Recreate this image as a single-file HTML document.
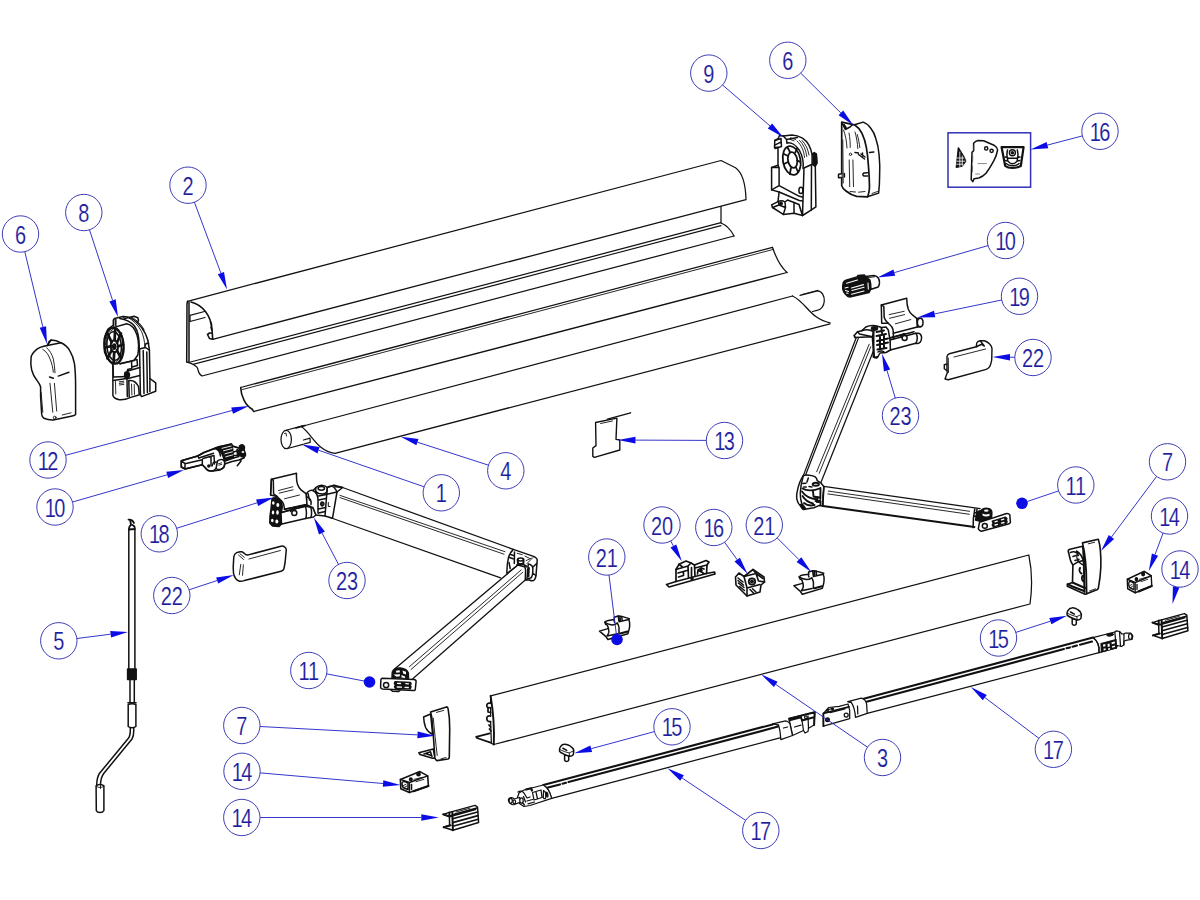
<!DOCTYPE html>
<html lang="en"><head><meta charset="utf-8"><title>Exploded parts diagram</title>
<style>
html,body{margin:0;padding:0;background:#fff}
body{width:1200px;height:900px;overflow:hidden}
svg{display:block}
#parts{fill:none;stroke:#111;stroke-width:1.25;stroke-linecap:round;stroke-linejoin:round}
#parts .t{stroke-width:.9}
#parts .sm{stroke-width:1.5}
#parts .h{stroke-width:1.6}
#parts .w{fill:#fff}
#parts .k{fill:#111}
#parts .g{stroke:#555;stroke-width:.7}
</style></head><body>
<svg width="1200" height="900" viewBox="0 0 1200 900">
<rect width="1200" height="900" fill="#fff"/>
<g id="parts">
<g id="p-01_housing">
<!-- housing (2) -->
<path d="M187.5 301.3L721 160.5L735.5 167.7C741.5 172 745.6 183 746 199.7L212.7 339.3"/>
<path class="h" d="M187.5 301.3L187 304L186.7 362L188.7 362.5M189 302L189 362" style="stroke-width:1.5"/>
<path class="h" d="M191 302C203 305 211 316 212 329L212.7 339.3" style="stroke-width:1.6"/>
<path class="h" d="M212.7 339.3L209.5 338.5L207.5 334.5L209.5 333L212 333M210.5 322L211.5 325M211 327L211.8 330"/>
<path d="M190 315.3L204.500 311.5M190 321.5L205 317.5M190 315.3L190 321.5"/>
<path d="M190.5 362L721 222.7"/>
<path d="M193 364.4L721 225.600" style="stroke-width:1.1"/>
<path d="M188.7 362.5C192 364 196 365 197.5 368C198.5 371 198 374 202 376L734 236"/>
<path d="M721 206.500L721 223C726 225 731 230 734 236"/>
</g>
<g id="p-02_profile12">
<!-- profile (12) -->
<path d="M240.7 387.5L772.5 247.300"/>
<path d="M242.500 389.500L773.300 249.400" class="t"/>
<path class="h" d="M240.7 387.5C241 397 246 406 252 409L253 410.500L254 411.500" style="stroke-width:1.6"/>
<path d="M254 411.500L787 272.500"/>
<path d="M772.500 247.300C776 258 781 267 787 272.500"/>
</g>
<g id="p-03_fabric">
<!-- roller tube (1) + fabric (4) -->
<ellipse cx="286.200" cy="439.500" rx="5.200" ry="9.200"/>
<path d="M285 430.500L302.500 425.800M287.500 448.500L303 444.300"/>
<path d="M284.500 433.500L286 433L286.500 436" class="t"/>
<path d="M303.500 440L310 438.200L310.200 442.300L304 444" />
<path d="M301.300 426.500L792.500 296"/>
<path d="M296 428L305 425.600" class="h"/>
<path d="M301.300 426.500C312 434 317 451 335 453.300L830 323.800"/>
<path d="M792.500 296C806 302 810 319 830 322.800"/>
<path d="M800 295.300L817.500 290.800C822 291 824.500 296 824.300 301C824 306 821 310 817 310.300L812.500 311.500"/>
<path d="M802 294.500L818 290.300" class="t"/>
</g>
<g id="p-04_front3">
<!-- front profile (3) -->
<path d="M490.6 695.9L1028.8 555C1032 570 1032 590 1030 604L493.8 744.5"/>
<path class="h" d="M490.6 695.9C493 710 494.5 728 493.8 744.5" style="stroke-width:1.9"/>
<path d="M490.6 695.9L490.6 703M490.6 707.6L490.6 716M490.6 721.6L491.4 743.4L493.8 744.5"/>
<path class="h" d="M476.2 736.8L489.8 733.3M476.2 736.8L477 738L490.6 742.6" style="stroke-width:1.8"/>
<path class="h" d="M490.6 703.3C488 702.5 486.5 704 486.8 706C487 707.6 488.5 708 490.6 707.6M488 708L488 712L490.6 712.5M490.6 716C488 715.3 486.5 717 486.8 719C487 721 488.5 721.8 490.6 721.6M489 725L490.5 727M489.5 729L491 731" style="stroke-width:1.7"/>
</g>
<g id="p-05_legs">
<!-- legs (17) -->
<!-- left leg tube -->
<path d="M551.7 798.3L780.8 737.6"/>
<path class="h" d="M543.3 785L772.7 724.4" style="stroke-width:2.1"/>
<path class="h" d="M548 787.6L560 784.4M562.5 783.7L566 782.8M568.5 782.1L778 726.6" style="stroke-width:2.1"/>
<path d="M543.3 785C547 787 550 792 551.7 798.3"/>
<!-- left leg left fitting -->
<path class="w" d="M524 790L543.3 785C547 787 550 792 551.7 798.3L530 805.5L524 806.5L519.5 803.5L517.5 797.5L519 793Z"/>
<path class="h" d="M526 789.5L531 788.2L532 790.5" style="stroke-width:2.2"/>
<path d="M532.5 792.5L541 790L542 797.5L534 800ZM536 792L537.5 799M543.5 790.5C545.5 791 546.5 795 545.5 798.5C544.5 799 543.5 798.5 543.3 797.5Z"/>
<path class="k" d="M546 792C547.5 792 548.3 794.5 547.8 796.8C546.8 797 546 796 546 794.5Z"/>
<path d="M518 792C520 790.5 522.5 791 524 793L527 798L530 797M523.5 796.5L525.5 802M520 799.5L524.5 805M527 801L532.5 799.5M528 803.8L534.5 802"/>
<path class="w" d="M509 798.5C510.5 797 513 797.3 514 799L519.5 797.5L521 802L515.8 803.8C514.5 805 512 805 510.5 803.5C508.5 802 508 800 509 798.5Z"/>
<ellipse cx="510.7" cy="800.8" rx="1.6" ry="2.5"/><ellipse cx="514.3" cy="801.8" rx="1.3" ry="2"/>
<ellipse class="w" cx="521.5" cy="800.5" rx="1.7" ry="2.6"/>
<!-- left leg right collar + fitting -->
<path class="w" d="M789 718.6L814.7 712.2L814.1 725L808.5 728.3L808 731.5L805 733L803.5 730.5L792.5 735.5Z"/>
<path class="h" d="M789 718.6L814.7 712.2L814.1 725M789.5 720.3L801 717.3L802 720.5L813 717.5" style="stroke-width:2"/>
<path d="M802 720.5L803.5 730.5M794.5 727L801 725.2M808 716L808.5 728.3"/>
<circle cx="805.9" cy="717.2" r="1.4"/>
<path class="w" d="M772.7 723.8L785.5 720.9C788.5 721.5 790 723 790.2 725L792.5 735.5L780.8 739.6C780.5 734 779.8 729 778.5 725Z"/>
<path d="M772.7 723.8L778.5 725M783.5 728L787.5 727"/>
<!-- right leg tube -->
<path d="M867.2 713.3L1099 652.6"/>
<path class="h" d="M863.7 698.8L1093 637.6" style="stroke-width:2.1"/>
<path class="h" d="M866.5 701.8L1064 649M1066.5 648.3L1070 647.4M1072.5 646.7L1077 645.5M1080 644.7L1092 641.6" style="stroke-width:2.1"/>
<!-- right leg left plate + collar -->
<path class="w" d="M823.4 713.3L828.7 707.5L839.2 706.3L848 704L849.7 710.4L849.7 718.6L823.4 726.2Z"/>
<path class="h" d="M823.4 713.3L823.4 726.2M823.4 713.3L849 706.8" style="stroke-width:1.8"/>
<path d="M826.5 710L833 708.3M830 712.7L845 708.8"/>
<circle class="k" cx="827.5" cy="719.8" r="1.9"/><circle cx="846.2" cy="715" r="2"/>
<circle cx="827.5" cy="710.5" r=".9"/><circle cx="832.5" cy="708.8" r=".9"/>
<path class="w" d="M847.9 701.7L861.3 698.2C864.5 699 866 701 866.6 704L867.2 713.3L855.5 717.4C855 711 853.5 705.5 851.3 702.3Z"/>
<path d="M847.9 701.7L851.3 702.3M857.5 706L857.8 714"/>
<!-- right leg right fitting -->
<path class="w" d="M1093 637.6L1114.8 632L1116.5 630.8L1119.5 631.5L1122 634L1124 633.8L1125.5 633L1130.5 633L1132.8 636L1132 639.5L1127 640.2L1124 641L1123.8 645L1121.5 646.5L1117.5 645.5L1116.3 648L1099 652.6C1099.5 647 1097.5 641 1093 637.6Z"/>
<path d="M1093 637.6C1097.5 641 1099.5 647 1099 652.6M1114.8 632L1116.3 648M1119.5 631.5L1120.5 646M1124 633.8L1123.8 645"/>
<path class="k" d="M1107 634.5C1109.5 633 1112.5 633 1113.5 634.3C1112.5 636 1109 636.5 1107 635.5ZM1101 643.5L1116 639.5L1116.3 648L1101.5 652Z"/>
<g fill="#fff" stroke="none"><path d="M1103 644.5L1105.3 643.9L1105.5 646.2L1103.2 646.8ZM1107.5 644L1109.5 643.5L1109.8 646.5L1107.8 647ZM1111.5 642.3L1114.8 641.5L1115 643.3L1111.7 644.2ZM1103.5 648.7L1105.5 648.2L1105.7 650L1103.7 650.5ZM1108 648.5L1110 648L1110.2 649.5L1108.2 650ZM1112 646.3L1115 645.5L1115.1 647L1112.1 647.8Z"/></g>
<ellipse cx="1130.3" cy="636.5" rx="1.7" ry="2.8"/>
</g>
<g id="p-06_arms">
<!-- arms -->
<path d="M342.6 487.5L513.3 549.4M330 517.5L500.6 577.8"/>
<path d="M340 495.4L505 551.7M340 497.6L504 554.2" class="t"/>
<path d="M517.8 565L394.3 669.2M525.3 580L412.8 678.7"/>
<path d="M521.1 570L409.4 666.7M522.8 572.2L411.1 669.4" class="t"/>
<path d="M856.3 337.5L803.3 475.6M874.3 348.8L820.8 482.8"/>
<path d="M870.8 346.7L819.2 473.3M869.2 344.2L816.7 471.7" class="t"/>
<path d="M858.2 338.6L805.2 476"/>
<path d="M823.8 486.3L980.1 508.7"/>
<path d="M822.8 506L974.4 526.9" style="stroke-width:2"/>
<path d="M828.3 491.1L969.6 511.3M827.8 493.9L969.3 514.3" class="t"/>
</g>
<g id="p-10_cap6L" class="sm">
<!-- end cap (6) left -->
<path class="w" d="M47.2 345.6C42 346.5 38.5 348 36.7 349.4C33 352.5 31.1 355 31.1 357.8C30.5 362 30.8 366 31.7 370C33 375 35 378 36.7 380C38.5 382.5 40 384.5 40.6 386.7L40.6 396.7L41.7 414.4C42 416.5 43 417.8 43.9 418.3C47 419.6 50 420.2 53.3 420L72.2 416.1C74 415.7 75.2 415.2 75.6 414.4L75.6 385.6C75.6 378 75.3 370 74.4 363.3C73.5 358.5 72 354.5 70 351.1C68 347.5 65 344.5 61.1 342.8C58 341 54.5 340 51.1 340Z"/>
<path d="M47.2 345.6L61.1 342.8M47.5 345L49 341.5L51.1 340" />
<path class="t" d="M42.8 349.4C46.5 351.5 48.5 355 50 358.9C51.8 363 52.8 367.5 53.3 372.2M46.7 347.8C50 350.5 52 354.5 53.3 358.9C54.3 363.5 54.8 368 55 372.8"/>
<path d="M58.3 376.1L68.9 372.2M49.5 377L53.3 378.3"/>
<path class="t" d="M50 383.3L52.8 412.2M54.4 383.3L56.7 411.1M41.1 392.2L42.8 412.2M62.2 415L71.1 412.8"/>
<circle class="t" cx="54.7" cy="417.6" r="1.4"/>
</g>
<g id="p-11_motor8" class="sm">
<!-- motor/gear unit (8) -->
<path class="w" d="M113.5 320L114.5 318.5L123 316.6C128 316.3 133 318.8 137.2 322.7C141.5 326.5 144 330.5 145.7 334.3C147.5 338 148.5 342 148.8 345.9L149.4 350.1L149.9 378.5L155.7 382.9L155.7 391.3L141.5 396.6L140.4 394.5L130 397.6C126 399.5 122.5 400 119.3 399.7C116 399 113.5 397.5 112.9 395.5L112.9 364.9L104.5 352L104.5 338L108 329L113.5 325Z"/>
<path d="M113.5 320L113.5 326M115.8 319.4L115.8 325.5M123 316.6L124.6 318.6L134 316.2L137.8 317.8L138.5 320.5L137.2 322.7"/>
<path d="M119.8 318.5C126 319.5 131 322 134.5 326C138 331 139.5 338 139.3 349L139.6 351"/>
<path class="t" d="M128 317.5C133.5 320.5 138.5 325.5 141.5 331.5C143.5 336 144.6 341 144.9 346.3M131.5 317C137 320 141.5 324.5 144.2 330"/>
<path d="M114 327.4L126.7 323.7C131.5 324.5 135 329 137 335C138.8 341 138.8 349 137.8 355L134 360.5L120 363.8"/>
<path d="M139.3 349L145.5 347.5L149.4 350.1M144.9 346.3L146 343.5L148.6 343.2M139.6 351L140.4 394.5M143.2 350.5L144 393.5M146.8 352L147.4 392.5M149.9 378.5L149.9 391.5"/>
<path d="M112.9 364.9L113.4 377L127 376.6M120 363.8L131.5 361L131.8 368.5L127.6 369.6L127.6 373.5M131.5 361L137 359.4L137.5 365.5L132 367"/>
<path d="M127 371.2L139.8 367.5M127 378.8L139.8 375.5M113.4 380.5L126.5 378.5"/>
<path class="k" d="M125 372.5C127 371.3 129.3 372.5 129.5 374.5C129.6 376.6 128.5 378 126.8 378C125.3 377.8 124.5 376.5 124.6 375Z"/>
<path d="M127 378.8L127.3 396.5M128.8 380.6L129.2 396.8M128.8 380.6C133 380 136.5 382.5 138.5 386.5L139.2 394"/>
<path class="t" d="M131.5 384L131.9 395M134.2 384.5L134.5 394.3M119.3 381.8L123.8 381.2M119.3 383.4L123.8 382.8M119.3 385L123.8 384.4M115.5 381.5L115.8 394"/>
<ellipse class="w h" cx="114" cy="345.7" rx="9.6" ry="18" transform="rotate(-4 114 345.7)" style="stroke-width:2.3"/>
<ellipse cx="114.1" cy="346" rx="7.3" ry="14.3" transform="rotate(-4 114 345.7)" style="stroke-width:1.6"/>
<ellipse cx="114.3" cy="346.3" rx="3.6" ry="6" transform="rotate(-4 114 345.7)" style="stroke-width:2"/>
<ellipse class="k" cx="114.2" cy="346.6" rx="1.5" ry="2.6"/>
<path style="stroke-width:2.7" d="M114.6 340.3L115.2 329M117 342.5L121 333.5M117.9 346.5L123 344.5M117 350.3L120.8 358M114.2 352.3L113.6 363M111.5 350.5L107.5 358.5M110.7 346.2L105.2 347.5M111.6 342.3L107.6 333.6"/>
<path class="t" d="M116.2 329.5L119.8 332.5M122 335.5L123.4 342.5M123.2 347L121.6 355.5M119.4 359L115.3 362.3M112 362.5L108.5 360M106.6 356.6L105.3 350M105.4 345L106.8 336M108.8 332.3L113.2 329.3"/>
</g>
<g id="p-12_part10L" class="sm">
<!-- drive insert (10) left -->
<path class="w" d="M181.3 460.7L197.7 456L204 452.5L214.5 448.5L220 446.5L231.5 444L232.3 446L238.5 448L244 449.5L245.5 454L244 458L239 460L232 461.5L224.5 464L224 467L220 470L213 471L208 470.5L205.5 468L202.3 464.7L185 469L181.3 467Z"/>
<path d="M181.3 460.7L181.3 467L185 469L185 463.7ZM185 463.7L202.3 459.7M185 469L202.3 464.7M181.3 460.7L197.7 456L198.8 458"/>
<path d="M197.7 456L204 452.5L214.5 448.5M198.8 458L213.5 453.3M202.3 459.7L202.3 464.7L205.5 468C207 470.5 210 471.3 213 471L216 468.5"/>
<path d="M203 458.5L211 456.2L211 465.5M211 456.2L214 455.5L214.5 464M214.5 448.5C218 449 220 452 220.5 456"/>
<path d="M212 466L213.5 462.5L216 462M216 468.5L217.5 461C219 459.5 222 459 224 460.5C225 462 225 465 224 467C222.5 469.5 219 470.5 216 468.5"/>
<path class="t" d="M218.5 463.8L221.5 462.8M218.8 465.2L221.8 464.2"/>
<circle class="k" cx="208.8" cy="466" r="1"/>
<path class="k" d="M216 447.7L231.5 444L232.3 446L233.5 458L224.5 461.2C223.5 456 221 451 216 447.7Z"/>
<path style="stroke:#fff;stroke-width:.9" d="M222 448.3L231.2 446M223.5 450.8L232 448.6M225 453.8L232.5 451.8M225.8 456.8L233 454.8"/>
<path d="M214.5 448.5L220 446.5M233.5 458L239 456.5M232.3 446L238 447.6"/>
<path class="k" d="M239.5 446C241 444 243.5 444.3 244.3 446.5C245 448.5 244 450.3 242 450.5C240 450.5 238.8 448.5 239.5 446ZM237 449.5L241 451.5L241 455L237.5 455.5ZM241 454C243 453 245.5 453.5 245.5 455.2C245 456.8 242.5 457.3 241 456.6Z"/>
<path d="M233.5 452L237 451M234 455.5L237.5 455.5M240.5 459.5L241 461L237.3 465.7"/>
</g>
<g id="p-13_bracket18" class="sm">
<!-- bracket (18) + left shoulder joint -->
<path class="w" d="M271.4 479.3L296.5 473.3C296.3 478 296.6 482 297.6 484.5C298.5 487 299.5 488.6 301 489.8L306.3 493.9L307 505L284.5 509.3C284 505 283.5 503 282.3 501.8C280.5 499.5 278.5 498 277 496.5L270.6 495Z"/>
<path d="M271.4 479.3L273.3 480L273.6 494C275 495 276.2 495.8 277 496.5M270.6 495L271.4 479.3"/>
<path class="t" d="M278.5 490.5L292.8 486.8M279.3 493.1L293.1 489.8M284.5 498.8L299.5 495"/>
<path class="w" d="M280 513L304.8 506L313 507.8L316 515L313.5 517L305.5 518.6L280.8 524.3Z"/>
<path d="M284.5 509.3L304.8 504.8M280.5 512.5L305 506.4M305 505C306.5 509 306.8 514 305.8 518.5M309.5 504.5C311.5 508 312 513 311 517.3M304.8 504.8L309.5 504.5L313.5 506.5"/>
<circle class="w" cx="294.3" cy="513" r="2.5"/>
<path d="M290.5 511.5C291 509.5 293 508.6 295 509"/>
<path class="k" d="M272 499C274 497 278 497.5 280 500C282 502.5 282.5 506 282 509L281 513L281.5 524L279 526.5L272.5 526L269.8 523L270 516L271 509Z"/>
<g fill="#fff" stroke="none"><ellipse cx="273.3" cy="503" rx="1.3" ry="1.8"/><ellipse cx="277.8" cy="505" rx="1.5" ry="2"/><ellipse cx="273" cy="512.5" rx="1.2" ry="2"/><ellipse cx="277.5" cy="512.5" rx="1.3" ry="2.2"/><ellipse cx="272.3" cy="520.5" rx="1.3" ry="1.8"/><ellipse cx="276.8" cy="521.5" rx="1.5" ry="2"/></g>
<!-- shoulder joint -->
<path class="w" d="M306.3 493.9C308 491 311 489.8 313 490.5L316 487.5C319 484.5 324 484.3 327.3 487.5L334 485.3L342.6 487.5L337 492L332.5 518.3L325 516L316 515L313 507.8L307 505Z"/>
<ellipse cx="321.3" cy="488.3" rx="3.2" ry="1.9"/>
<path d="M316 487.5C315 490 316 492.5 319 493.5C322.5 494.3 326 493.5 327 491.5L327.3 487.5M313 490.5C316.5 492.5 318 496 318 500L318 513"/>
<path d="M327.3 487.5L325 516M337 492L327 494.2M334 485.3L335.5 486.8L342.6 487.5M327.3 487.5C330 485.5 334 485 337 492"/>
<path class="h" d="M318.5 496L326.5 494.5M318.5 500L326 498.5M318.5 509L325.5 507.5M318.5 513L325.3 511.5M322 502L322 506"/>
<circle cx="322.3" cy="504" r="1.7"/>
<path d="M307 497C310 498 311.5 501 311 504.5M308 493.5L309.5 500"/>
<path class="t" d="M328.3 502.5L328.3 506.5L330 506.5" style="stroke-width:1"/>
</g>
<g id="p-14_part22L" class="sm">
<!-- cover (22) left -->
<path class="w" d="M233.2 567.2L233.8 556.7C234.3 554.5 235.3 553.3 236.7 552.6C238.5 551.8 240.3 551.5 241.9 551.7C243 552.2 244 553 244.8 553.8C246 554.8 247.3 555.1 248.3 554.9L281 546.2C282.5 546 283.7 546.2 284.5 546.8C285.7 547.6 286.2 548.5 286.3 549.7L285.1 562.5L283.9 568.9C283.3 570.3 282.3 571 281 571.3L244.3 580.6C242.5 581.2 241 581.4 239.6 581.2C237.5 580.6 236.3 579.5 235.5 578.3C234.2 576.5 233.6 574.8 233.5 573Z"/>
<path class="t" d="M248.9 559L280.4 550.5M240.8 564.3L239.3 574.8M243.4 564.8L242.5 575.3M238.5 555L243.5 559.5M240 553.8L244.3 557.3"/>
</g>
<g id="p-15_crank5" class="sm">
<!-- crank (5) -->
<path d="M128.8 529L128.8 669M134.9 529L134.9 669"/>
<path class="h" d="M128.5 519.7C131 519.5 133 520.5 134 523M130.3 521L131 524.5L129.3 527L129 529.5L134.8 529L134.5 526.5L132.5 525" style="stroke-width:1.8"/>
<rect class="k" x="127.6" y="669" width="8.6" height="10.5"/>
<path d="M130 679.5L130 702M134.3 679.5L134.3 702"/>
<path class="h" d="M128 702.8L136 702.8"/>
<path class="w" d="M128.2 704.5L128.2 726.5C130 728 134 728 135.9 726.5L135.9 704.5C134 703.5 130 703.5 128.2 704.5Z"/>
<path d="M130.3 728C130.5 733 130 736 128.6 738L99.4 773.5C97.5 776.5 96.8 780 96.7 785M133.7 728C134 733 133.5 736.5 132 739L103.7 773.5C101.5 776.5 100.6 780 100.5 785"/>
<path class="w" d="M96.1 786L96.3 810.5C97.5 813.3 102.5 813.3 103.9 810.5L103.9 786C102.5 784 97.5 784 96.1 786Z"/>
<path class="t" d="M96.1 786C97.5 788 102.5 788 103.9 786M100.5 785L100.5 788.5"/>
</g>
<g id="p-16_elbowL" class="sm">
<!-- left elbow -->
<path class="w" d="M513.3 549.4L532.8 556.1C535.5 557 537 558.3 537.2 560L536.1 574.4C535.8 578 535 580 533.3 580.6C532 581 530.5 580.6 529.4 580L525.3 580L525.6 570C525.5 568 525 567.3 524.4 566.7L517.8 565L507 573.5L506.9 571.1C507 566 507.5 562 508.3 558.3C509.3 554.5 511 551.5 513.3 549.4Z"/>
<path d="M514.5 552L514.3 563.5M510.5 554.5L513.5 555.5M509.5 557.5L513 558.8M509 562.5L510.2 568.5"/>
<path class="t" d="M517.2 553.3L522.2 554.7M525 556.1L529.4 558.3M526.1 560.6L531.1 558.3M527 563.5L533 557.5"/>
<ellipse class="w" cx="520.6" cy="559.4" rx="2.9" ry="1.5"/>
<path class="h" d="M517.7 559.6L517.9 563.2C519.5 564.3 522 564.3 523.4 563.4L523.5 559.6M517 565C520 563.3 524 564 526.5 566.5" style="stroke-width:2"/>
<path d="M528.3 563.9C531 564.5 533 566.5 532.8 568.9C533 573 532.5 576 531.1 577.8L526 579.6M528.3 563.9L527 579M533 567L536.6 563.5M532.5 573L535.8 575.5"/>
<path class="h" d="M528.8 568L528.3 577" style="stroke-width:2.2;stroke-dasharray:2 1.2"/>
</g>
<g id="p-17_armendL" class="sm">
<!-- left arm end bracket -->
<path class="k" d="M392 677.5L392.3 672C393.5 669 397 667.6 400.5 668C404.5 668.5 407.5 670.5 408.3 673L408.5 678.3Z"/>
<g fill="#fff" stroke="none"><path d="M396 670.8L399.5 670.2L400 672.3L396.3 672.8ZM402.5 670.5L406 671.8L406 674.5L403.2 673.5ZM393.5 674.5L396.5 676.8L399.8 676.2L400 674.3ZM401.5 675L405 676.5L405.2 678L401.5 677.5Z"/></g>
<path class="w" d="M382.3 678.2L414 679.4C415.5 679.6 416.2 680.3 416.1 681.5L415.3 689.3C415.1 690.3 414.5 690.7 413.5 690.6L382.3 689C381.2 688.8 380.6 688.2 380.6 687.3L380.9 679.6C381 678.7 381.5 678.3 382.3 678.2Z" style="stroke-width:1.5"/>
<circle cx="386.1" cy="685" r="2.6" style="stroke-width:1.5"/>
<path class="k" d="M395 681.8L410.5 682.4L411 684L410 685.3L411 686.6L410.3 688.8L395.5 688.3L394.5 686.8L395.5 685.2L394.4 683.5Z"/>
<path d="M397.5 683.3L400.5 683.5M405.8 683.6L408.5 683.8M397.3 687L401.5 687.2M405 687.3L408.3 687.5" style="stroke:#fff;stroke-width:1.3"/>
<path d="M391 690L392.5 691.3L398.5 691.6L400 690.5"/>
</g>
<g id="p-18_part7L" class="sm">
<!-- end cap (7) left -->
<path class="w" d="M430.6 714L423.6 717C423.8 721 424.5 724.5 425.6 727.5C427 730.5 429.5 733 432.6 734.5Z"/>
<path class="w h" d="M433.3 749L418.9 752.8L420 754.5L432.6 758.3L435 757.9Z"/>
<path d="M424 754L430.5 751.8L432 756.5M425.5 753.5L430.5 755.2"/>
<path class="w h" d="M430.6 712L446.5 706.9C447.5 707 448 707.7 448.1 708.9C449.3 715 449.8 722 449.7 729.1L449.3 757.1C449.2 758.2 448.8 758.8 448.1 759L436.8 760.6C435.8 760 435.2 759 434.9 757.9L433.3 735.3L431.8 717.4Z"/>
<path class="t" d="M433.3 718.2C434.3 730 435.8 743 437.2 755.5M436.4 712.4L443.8 710.4M441 758.8L446 757.6"/>
</g>
<g id="p-19_part14L" class="sm">
<!-- clamp block (14) left -->
<g id="cube14">
<path class="w h" d="M400.4 779.4L419.9 771.6L427.7 775.9L428.4 786L409.4 792.6L400.8 788.7Z"/>
<path d="M400.4 779.4L409.4 782.5L427.7 775.9M409.4 782.5L409.4 792.6"/>
<path d="M402 783.5C402 781.5 404 781 406 782L408 783L408 789.5L404 788C402.5 787.3 402 786 402 783.5Z"/>
<path class="t" d="M403.5 785.5L406 784.3M404.5 787.3L406.8 786"/>
<circle class="k" cx="410.8" cy="779.3" r="1.3"/><circle class="k" cx="418.5" cy="774.2" r="1.6"/>
<path class="t" d="M414 779.4L422.2 777.4M416 781.7L423.8 779.4"/>
<path class="h" d="M413.5 791.2L428.4 786" style="stroke-width:2.2"/>
<path d="M411.5 784.5L411.5 789.5"/>
</g>
<use href="#cube14" transform="translate(1127.3 579.3) scale(.875 1.02) translate(-400.4 -779.4)"/>
<!-- channel (14) left -->
<g id="chan14">
<path class="w" d="M443.2 814.4L449.4 812.4L475.1 805.4L477.5 807L478.6 822.5L452.9 830.3L443.6 827.2L449.6 825.5L449.4 816.5Z"/>
<path class="h" d="M443.2 814.4L449.4 816.5L475.3 809.3M449.4 812.4L449.4 816.5M443.6 827.2L450.5 825.3M452.9 830.3L452.3 812" style="stroke-width:2"/>
<path class="h" d="M452.5 814.8L477 808M452.6 818.8L477.6 812M452.7 822.6L478 815.6M452.8 826.3L478.3 819.3" style="stroke-width:1.7"/>
<path class="t" d="M456 812L470 808.2"/>
</g>
<use href="#chan14" x="709.3" y="-191.8"/>
</g>
<g id="p-20_part15" class="sm">
<!-- knobs (15) -->
<g id="k15">
<path class="w" d="M564.6 755L564.6 760.3C565.3 761.8 568 761.8 568.7 760.3L568.7 755.5Z"/>
<path class="w" d="M560 747.5C561 745.5 562.5 744.3 564.2 744.2C566.5 744 568.5 744.8 570 745.8C572 747 573.5 748.8 573.8 750.4L573.3 754.6C572.5 755.8 571.3 756.3 570 756.3C567.5 755.8 565.3 754.8 563.3 753.8C561.5 753 560.2 752.2 559.6 751.3C559.3 750 559.5 748.5 560 747.5Z"/>
<path d="M562.9 748.3L566.7 750.4" class="h"/>
<path class="t" d="M573.6 750.8L569.2 752.9L569.6 756.2M569.2 752.9C566 752.3 562.5 751 559.8 749.5"/>
</g>
<use href="#k15" x="507.6" y="-136.3"/>
</g>
<g id="p-21_part7R" class="sm">
<!-- end cap (7) right -->
<path class="w h" d="M1082.5 546.3L1070 549.3C1068.5 549.8 1068 550.5 1068.3 551.5L1070.4 560C1071 562 1072 563.8 1072.9 565L1072.5 582.5L1067.5 584.2L1067.3 586.3L1085 594.2L1086.7 593.8L1086.3 571.7Z"/>
<path class="h" d="M1067.5 584.2L1072.5 586.5L1084 591M1072.5 582.5L1085 588" style="stroke-width:2"/>
<path d="M1070.4 552.5C1074 551 1077 552.5 1078.5 555.5M1073 556.5L1077.5 555M1072.9 565C1076 562.5 1079.5 561 1083 560.5M1076.5 551C1080 553 1082.5 557 1083.5 562M1078 553C1076 556 1077 560 1079.5 562.5C1081 564 1083 565 1084.5 565M1075 560.5L1079 559.3"/>
<path class="h" d="M1083.5 552L1084.5 592M1080 568C1079 570 1079.5 572.5 1081.5 573.5M1082.5 576C1081.5 578 1082 580.5 1083.5 581.5" style="stroke-width:2"/>
<path class="w h" d="M1082.5 542.9L1098.3 539.2C1099.5 543 1100.2 547 1100.4 550.8C1100.9 556 1101 562 1100.8 567.5C1100.5 575 1099.5 582 1098.3 588.3L1097.5 589.5L1086.7 593.8L1086.3 571.7C1086 564 1085.2 557 1084.2 550.8Z"/>
<path class="t" d="M1088.3 543.8L1094.6 542.3M1089.5 591L1095.5 588.8"/>
</g>
<g id="p-22_armendR" class="sm">
<!-- right arm end bracket -->
<path d="M974.8 509C973.5 515 973 521 973.1 527.7M977 509.3L976 518M974.5 512.5L977 513M974 516L976.5 516.5"/>
<path class="k" d="M975.5 520L978 511.5L981.3 510.5C982.5 508.5 986 507.8 989 508.8C991 509.5 992 511 991.8 513L991.6 517.5L983 522Z"/>
<g fill="#fff" stroke="none"><ellipse cx="986.3" cy="510.7" rx="2.3" ry="1.1"/><path d="M982.5 513.5C984.5 514.8 988 514.8 989.5 513.6L989.5 515.8C988 516.8 984.5 516.8 982.5 515.6Z"/></g>
<path class="w" d="M979.5 522.4L1005.8 513.7C1007.5 513.3 1009 513.8 1009.8 514.8L1010.4 522.4C1010 523.5 1009 524 1007.5 524.2L981.3 531.2C980 530.8 979 530 978.3 528.8Z" style="stroke-width:1.5"/>
<ellipse cx="984.8" cy="525.9" rx="2.5" ry="2.3" style="stroke-width:1.5"/>
<path class="k" d="M992.3 521.3L1005.5 517.3L1006.9 518.5L1006 520L1007 521.5L1006.5 523L993.5 526.7L992.3 525L993.3 523.5Z"/>
<path d="M995 521.8L997.3 521.1M1001.5 519.8L1003.8 519.1M995 525L997.5 524.3M1001.5 523.2L1004 522.5" style="stroke:#fff;stroke-width:1.3"/>
</g>
<g id="p-23_elbowR" class="sm">
<!-- right elbow -->
<path class="w" d="M803.3 475.6C805 475 807.5 475 809.4 475.3C812 475.5 814 476 815.6 477.2C816.5 478 817 479.2 817.2 480.6L820.8 482.8L823.9 486.7L822.8 506.1L818.9 505.6L813.9 507.8L803.3 509.4C802 508.5 801 507.3 800.6 506.1C798.5 504 797.3 501.8 796.9 499.4C796.5 497 796.6 494.3 797.2 491.7C797.8 488 798.7 484.8 800 481.7C801 479.5 802 477.5 803.3 475.6Z" style="stroke-width:1.5"/>
<path d="M803.3 475.6C801.5 482 800.5 488 800.3 493C800.3 498 801 502.5 803 506M808.3 478L807 482M803 483.5L806 483.2M803.5 487L806.3 487M809 486.5L812 487"/>
<ellipse class="w" cx="815.8" cy="484.2" rx="3.1" ry="1.5" style="stroke-width:2"/>
<path class="h" d="M802.5 488.5C806 490.5 813 491.5 819.5 488.5M802 491.5C805 496 811 499 817.5 499.5M802.5 496C805 500 808.5 502.5 813 503.5M804 503C807 505.5 811 505.8 814.5 505M813 491L813.5 496.5L819 497.5M820.5 488L820.3 499M815.5 501L820.5 501L820.5 505" style="stroke-width:1.9"/>
<path class="k" d="M800.6 504.5L803 505L805.5 508.5L803.3 509.4Z"/>
<path class="t" d="M814 496.5L818 497M814.5 498L818 498.5M816.5 502.5L819.5 502.5"/>
<path d="M823.9 486.7C823 493 822.6 500 822.8 506.1"/>
</g>
<g id="p-24_bracket19" class="sm">
<!-- bracket (19) + right shoulder joint -->
<path class="w" d="M881.3 305L906.7 298.3C906.8 303 907.3 306.5 908.3 309.2C909.3 311.5 910.3 313 911.7 314.2L916.7 318.3L917.3 327L893.3 333.3C893.3 330 892.8 328 891.7 326.7C890.5 325.3 889.3 324.3 888.3 323.3L881.7 323.3Z"/>
<path d="M881.3 305L883.8 306.3L884.2 317.5C885 320 886.5 321.8 888.3 323.3"/>
<path class="t" d="M889.2 314.6L904.2 311.3M889.6 318.3L904.6 314.6M895.4 323.8L910.8 319.6"/>
<ellipse class="w" cx="920.2" cy="322.5" rx="2.8" ry="4.3"/>
<path d="M917 318.5L920 318.2M917.3 327L920.5 326.8"/>
<path class="w" d="M890 340L915.8 333.3L918.5 333.3C921 334 921.8 336.5 921.5 339C921 342 919.5 343.3 917.5 343.5L915.8 343.3L890.4 350Z"/>
<path d="M915.8 333.3C917.5 335 918 340 915.8 343.3M893.3 333.3L893.5 339M890.5 338L914 331.8" />
<path class="h" d="M891 337.5L905 333.8"/>
<circle class="w" cx="904.6" cy="337.9" r="2.5"/>
<path d="M900.8 336.5C901.3 334.6 903 333.8 905 334"/>
<!-- joint -->
<path class="w" d="M854.2 335.4L857.5 331.7L861.7 330.8L865.8 327C869 325.5 872.5 325.3 875.8 325.8L881.7 327.5L886 327L888.3 330L890 340L890.4 350L886 352.5L880 353L878 356.5L874.5 357.5L872.5 340L872.5 336.7L855 337.5Z"/>
<path d="M854.2 335.4L855 337.5M857.5 331.7L859.5 334L872.5 336.7M861.7 330.8C866 329 870 329.5 873.5 331.5L872.5 336.7"/>
<ellipse cx="874.5" cy="328.5" rx="3" ry="1.7" class="k"/>
<path class="h" d="M873.5 331.5L873.5 357M876.5 332L884 330.5M876.5 336L886 334M877 341L888 338.5M877 345L888 342.5M877.5 349.5L886.5 348M880 337L880 348M884 335.5L884 347M881.5 328.5L882 333" style="stroke-width:2"/>
<path d="M878 352C880 350.5 883 350.8 884.5 352.5M874.5 357.5C876 358.5 877.5 358 878 356.5"/>
</g>
<g id="p-25_part22R" class="sm">
<!-- cover (22) right -->
<path class="w" d="M947 356.7C947.3 355 948 354 949.3 353.7L976.3 346.7L976.7 343C977.5 341.5 978.8 340.8 980.3 340.7L984.3 340.7C986.5 341.3 988.3 342.5 989.7 344C991 345.3 991.8 347 992 348.7L991.7 360C991.3 362.5 990.6 364.8 989.7 366.7C988.8 368 987.7 368.9 986.3 369.3L948.3 379.7L945 379L947.3 372.7L947 370.7L944.3 368.7L944.3 364.7L947 364Z" style="stroke-width:1.4"/>
<path d="M976.3 346.7L981.7 344.3L984.3 346M980.3 340.7L984 345.7M947 364L947 370.7"/>
<path class="t" d="M954 357L985.7 349M948.3 358L948.5 372.5"/>
</g>
<g id="p-26_part10R" class="sm">
<!-- drive insert (10) right -->
<path class="w" d="M865.3 276.5L874 275.5C876 275.8 877.5 276.7 878.1 277.8C879.2 279.3 879.6 281 879.5 282.9C879.3 284.8 878.8 286.2 878.1 287L871.2 289.3Z"/>
<path class="t" d="M866.5 277.8L874.5 276.8"/>
<path class="k" d="M843.3 282.4C844 281.3 845 280.5 846 280.1L857 276.9L858 275.5L864.4 274.9L865.3 276.5L869.9 280.1C870.6 282.5 871 285.3 870.8 287.9C870.5 289.8 869.8 291.4 869 292.5L849.7 297.1C848 296.8 846.6 295.8 845.6 294.4C844 292.8 843 290.9 842.8 288.9C842.6 286.5 842.8 284.3 843.3 282.4Z"/>
<g stroke="#fff" fill="none" stroke-width="1.1"><path d="M846.5 283.2L857.5 280M851.5 288L863.5 284.6M852 290.5L864 287.2M851.5 294.3L864 291M845 288L848 287.3M845.5 290.5L848.5 291.5M846.5 293L848 293.3M868 283L868.3 289"/></g>
</g>
<g id="p-27_bracket9" class="sm">
<!-- bracket (9) -->
<path class="w" d="M778 147.2L774.5 147.5L774.8 140.5L778 138.7L779.5 135.5L783.3 136L791.9 134.9C796 135 799.5 136.3 802.5 138.1C805.5 140 807.5 142.5 808.9 145.1C810.5 148 811.5 151.5 812.1 154.7L814.3 152.5L816.3 154L816.9 163L815.3 166.4L815.9 206.9L811.1 210.1L802.5 215.5L794 213.3L783.3 214.4L772.5 207.5L771.6 204.8L778 201.6L779.1 192L771.6 189.9L771.6 167.5L778 165.3Z"/>
<path class="k" d="M813.2 153.5L816.3 154L816.9 163L815 165.5L813 164Z"/>
<path d="M812.1 154.7L812.1 164.3L815.3 166.4M812.1 164.3L804 168L802.5 215.5M811.5 166L811.3 210"/>
<path d="M771.6 167.5L779.1 167.5L779.1 185.6L799.3 196.3L802.5 197M779.1 192L799.3 200.5L802.5 201M778 165.3L779.1 167.5M771.6 189.9L779.1 185.6"/>
<path d="M774.8 145.1L781.2 141.9L781.5 146.5L775 148.5M774.8 140.5L781 138.5L781.2 141.9M783.3 136L786.5 139.5L797.5 137.5M786.5 139.5L787 143"/>
<path class="t" d="M797 141C801.5 145 804 151 804.5 157.5M799.5 140.5C803.5 144 806 150 806.8 156.5M802 140.5C805.5 144 808 149 809 155M790.5 137.8L795.5 139.5M790 139.3L794 140.8"/>
<path d="M787 143C791 142 796 145 799.5 150.5C802.5 156 803.8 162.5 803 168.5"/>
<ellipse cx="791.7" cy="160.5" rx="8.8" ry="14.6" transform="rotate(-10 791.7 160.5)" style="stroke-width:1.8"/>
<ellipse cx="792.6" cy="160" rx="4.6" ry="8" transform="rotate(-10 792.6 160)" style="stroke-width:1.8"/>
<path class="h" d="M790 152L787.5 147.5M795.3 152.3L797.3 148M797.2 160.5L800.3 161.8M795.8 167L798 172M791 168L789.8 174M788 162L784 164M788 156L784 154" style="stroke-width:1.8"/>
<ellipse cx="800.9" cy="190.4" rx="2" ry="3.1"/>
<path d="M778 201.6C780 200.5 783 200.5 785 202L787.5 200L794 202.5L794 213.3M785 202L785.5 207.5L783.3 214.4M772.5 207.5L779 205L785.5 207.5M779 205L778.5 202"/>
<circle class="k" cx="781" cy="203.5" r="1.2"/>
<path class="h" d="M794 202.5L799 204.5L802.5 215.5"/>
</g>
<g id="p-28_cap6R" class="sm">
<!-- end cap (6) right -->
<path class="w" d="M854.5 124.8L863.1 122.1C866 123 868.5 125 870.6 128C873 131 874.8 134.5 875.9 138.7C877.5 143.5 878.6 149 879.1 154.7C879.8 162 880 169 879.6 176C879.6 182 879.3 188 878.6 193.1L867.4 196.8Z"/>
<path class="w h" d="M841.7 122.1L854.5 124.8C858 127 860.3 130 862 133.3C864 137.5 865.4 142 866.3 147.2C867.3 153 868 159 868.4 165.4C869 172.5 869.4 180 869.5 186.7C869.3 191 868.6 194.5 867.4 196.8L856.7 196.3C852.5 195.5 849 193.5 846 191C843.8 189.5 842.3 187.8 841.7 185.6Z" style="stroke-width:1.7"/>
<path d="M842.3 123.5L845.3 129.5L850 127L852.5 124.7M844 124.5L846 127.5"/>
<path class="t" d="M843.5 130C845.5 135 846.6 141 847 148M849 133C850 138 850.3 143 850.2 147.5M855 132C856.5 137 857.5 143 857.8 148.5M857.3 134.5C858.5 139 859.5 144 859.8 147.5"/>
<path class="t" d="M849.2 160L849.7 186.7M852.9 160L853.5 186.7M842.8 140L843.2 183M850 191.5L855.5 192M858.5 192.2L865 191.5M872 193.5L877.5 191.5"/>
<path d="M869.5 152.6L873.8 152M855 152.5L858.5 153M858.5 154.5L864.5 159M861 154L865 157M862.5 153L862.5 156"/>
<circle class="t" cx="850.5" cy="154.3" r="1.2"/>
<path class="w" d="M841.7 173.8L838.5 174.3L838.5 177.8L841.7 177.4M844.4 173.4L844.4 177"/>
<path d="M867.4 172.8L864 173C862.5 173.5 862.5 175.5 864 176L867.6 176"/>
</g>
<g id="p-29_box16" class="sm">
<!-- kit box (16) -->
<rect x="948" y="132.8" width="82.6" height="54.4" style="stroke:#3030b8;stroke-width:1.5;stroke-linejoin:miter"/>
<path class="k" d="M958.4 148L964.4 158L965.6 161.2L962 166L956.4 167.2Z"/>
<path d="M957 158L964 158M956.8 161.2L965 161.2M956.6 164.2L963 164.2M959.8 152L959.8 166.5M962.3 156L962.3 165.5" style="stroke:#fff;stroke-width:.8"/>
<path class="w" d="M973.6 143.2C975 141.5 976.5 140.6 978 140.4L983.6 140.8L994 145.2C996 146.5 997.3 148 997.6 150C997 153.5 995.8 157 994 160.4C991.5 165 989 169.5 986 173.2C984 175.5 981.5 177 978.8 178L974 178.8L972.8 181.6L971.2 179.6L972 152.4L973.6 150.8Z" style="stroke-width:1.5"/>
<circle cx="986.2" cy="148.4" r="1.6"/><circle cx="991.6" cy="150.8" r="1.6"/>
<path class="g" d="M978 163.6L986.4 163.6M975.6 174L979.6 174M973.8 146L973.8 150M972.8 156L972.6 162M972.6 166L972.4 172"/>
<path class="w" d="M1001.6 147.2L1023.6 147.2L1020.8 166C1018 167.5 1015 168 1012.4 168C1009.5 168 1007 167.5 1005.2 166Z" style="stroke-width:2.2"/>
<circle cx="1012.4" cy="152.8" r="3" style="stroke-width:1.4"/><circle class="k" cx="1012.4" cy="152.8" r="1"/>
<path d="M1007.5 150C1006.5 154 1007 158 1008 161C1010 164.5 1015 164.5 1017 161C1018 158 1018.3 154 1017.3 150M1008 158.3L1017 158.3M1005 157L1007.5 157.5M1005.5 160.5L1008 161M1017.5 157.5L1020 157M1017.3 161L1019.8 160.5M1006 163.5C1009 166.5 1016 166.5 1019 163.5"/>
</g>
<g id="p-30_clips" class="sm">
<!-- part 20 -->
<path class="w h" d="M666.5 584.5L676 581.5L676 569.5L679 564.3L686 561L691 563L694.5 565L706 560.5L709 562L707 565L706.5 573.5L714.5 572L715 574L669 587Z" style="stroke-width:1.7"/>
<path class="h" d="M676 569.5L688 566L691 563M688 566L688.5 578M679 564.3L682 566.5M678 573L687 570.5M678.5 577L683.5 575.5L683.5 572.5M694.5 565L695 576.5M691.5 567.5L691.5 577M695 568L707 565M697.5 574L698 570L701.5 568L704 569M698 570L704 573.5M676 581.5L706.5 573.5" style="stroke-width:1.7"/>
<circle class="k" cx="692" cy="578.5" r="1"/><circle class="k" cx="701" cy="570.5" r="1"/>
<!-- part 16 (middle) -->
<path class="w h" d="M735.5 577L739 573L744 576.5L753 569.5L764 577L764.5 582L761 585L760 592L747 596L736 585Z" style="stroke-width:1.6"/>
<path class="h" d="M744 576.5L747 588L747 596M747 588L760 584.5M744 576.5L756 573.5M753 569.5L756 573.5L758.5 581L764.5 582M756 573.5L763 578.5" style="stroke-width:1.6"/>
<path d="M738 578L743 582M738 580.5L743.5 585M738.3 583L744 587.5M739.5 586.5L744.5 590.5M750 589.5L753.5 593M752.5 588.8L756 592"/>
<circle cx="752" cy="581.5" r="3.2" style="stroke-width:1.8"/><circle class="k" cx="752" cy="581.5" r="1.2"/>
<!-- part 21 (x2) -->
<g id="clip21">
<path class="w" d="M793.9 585.8L801.4 583.6L802.8 583.1C802.5 581.5 802 580.3 801.4 579.6L800.1 579.1L799.2 576.9C800 575.8 801.3 575.3 802.8 575.1L808.6 574.2L808.6 572L812.6 570.7L816.1 571.1L823.7 573.3L823.2 574.2C824 576 824.3 578 824.1 580C824 582 823.7 583.8 823.2 585.3L822.300 588.4L802.300 594.2L800.1 591.1Z"/>
<path d="M799.2 576.9C801 578.5 804 579.3 806.3 579.6C808.5 579.5 810.3 578.8 811.700 577.8M802.8 583.1C803.3 584.5 803.4 585.8 803.2 587.1C802.8 588.6 802.2 589.8 801.400 590.7L812.1 588.4M808.6 574.2C808.3 575.3 808.5 576.3 809 577"/>
<path class="h" d="M811.7 577.8C812.6 579.2 813.2 580.7 813.4 582.2L813.4 588.4M812.6 570.7L813.4 576.4L823.2 574.2M816.1 571.1L816.6 575.5M814.3 571L814.8 576" style="stroke-width:1.5"/>
<path class="h" d="M814.5 588.2L822 586.2" style="stroke-width:2"/>
</g>
<use href="#clip21" x="-194.4" y="45.3"/>
</g>
<g id="p-31_part13" class="sm">
<!-- part 13 -->
<path class="w" d="M595.6 422.5L616.9 418.1L616 439.4L619.8 440L619.8 450L594.4 457.3L592.8 456.3L592.8 448L596 445.6Z" style="stroke-width:1.4"/>
<path d="M607.5 419.2L630.6 412.8" style="stroke-width:1.4"/>
<path class="t" d="M600.6 423.5L612.5 421"/>
</g>
</g>
<g id="callouts">
<path fill="none" stroke="#2a2ac8" stroke-width=".95" d="M194.4 202.2L220.9 273.1M89.5 229.8L112.6 300.4M24.8 251.7L42.9 327M65.6 455.3L232.1 410.5M72.5 502L167.2 474.8M176.6 528.3L257.1 502.8M189.1 589.8L217.2 580.5M76.9 638.5L110.6 634.2M326.7 673.9L369.5 682M260 726.5L417.5 734.9M260.1 772.9L383.1 783.5M260 817.5L421.3 817.5M338.5 564.4L322 533M424.1 486.8L318.5 450.2M488.5 465.2L417.4 442.2M706.3 440.4L635.5 440.1M609 575.1L617 639.5M670.7 541L673.4 545.9M724.5 542.2L737.2 559.7M777.2 537.9L798.9 559.6M654.4 731.6L591.2 748.7M745.7 820.4L682.1 778M867.5 747.2L775.7 684.4M1038.9 738.3L984.8 697.5M1015.8 632.4L1050.4 621.2M1058.6 490.9L1022 503.3M1156.6 476.4L1111.5 537M1163.1 533L1155 554.6M1014.8 357.3L1010 357.2M895.3 398.1L887 370.6M1001.7 300L934.6 313.9M988 245.6L894.3 272.6M1082.4 135.9L1047.4 145.1M722.6 85L770 125.9M800.7 73.1L840.9 113"/>
<path fill="#0c0ce4" d="M227 289.5L217.8 274.3L224 272ZM118 317L109.4 301.4L115.7 299.3ZM47 344L39.7 327.8L46.1 326.2ZM249 406L233 413.7L231.2 407.4ZM184 470L168.1 478L166.3 471.7ZM273.8 497.5L258.1 505.9L256.1 499.6ZM233.8 575L218.2 583.6L216.1 577.4ZM128 632L111.1 637.5L110.2 630.9ZM435 735.8L417.3 738.2L417.7 731.6ZM400.5 785L382.8 786.8L383.3 780.2ZM438.8 817.5L421.3 820.8L421.3 814.2ZM313.8 517.5L324.9 531.4L319 534.5ZM302 444.5L319.6 447.1L317.5 453.4ZM400.8 436.8L418.5 439.1L416.4 445.3ZM618 440L635.5 436.8L635.5 443.4ZM681.8 561.3L670.5 547.5L676.3 544.4ZM747.5 573.8L734.5 561.6L739.9 557.7ZM811.3 572L796.6 562L801.3 557.3ZM574.3 753.3L590.3 745.5L592.1 751.9ZM667.5 768.3L683.9 775.3L680.2 780.8ZM761.3 674.5L777.6 681.7L773.9 687.1ZM970.8 687L986.8 694.9L982.8 700.2ZM1067 615.8L1051.4 624.3L1049.3 618.1ZM1101 551L1108.8 535L1114.1 538.9ZM1148.8 571L1151.9 553.5L1158.1 555.8ZM1172.5 604L1172.9 586.2L1179.4 587.6ZM992.5 357L1010 353.9L1010 360.5ZM882 353.8L890.2 369.6L883.9 371.5ZM917.5 317.5L934 310.7L935.3 317.2ZM877.5 277.5L893.4 269.5L895.2 275.8ZM1030.5 149.5L1046.6 141.9L1048.3 148.3ZM783.2 137.3L767.8 128.4L772.1 123.4ZM853.3 125.3L838.6 115.3L843.2 110.6Z"/>
<g fill="#0c0ce4"><circle cx="369.5" cy="682" r="5.8"/><circle cx="617" cy="639.5" r="5.8"/><circle cx="1022" cy="503.3" r="5.8"/></g>
<g fill="none" stroke="#3434b2" stroke-width=".95"><circle cx="188" cy="185.2" r="18.2"/><circle cx="83.8" cy="212.5" r="18.2"/><circle cx="20.5" cy="234" r="18.2"/><circle cx="48" cy="460" r="18.2"/><circle cx="55" cy="507" r="18.2"/><circle cx="159.3" cy="533.8" r="18.2"/><circle cx="171.8" cy="595.5" r="18.2"/><circle cx="58.8" cy="640.8" r="18.2"/><circle cx="308.8" cy="670.5" r="18.2"/><circle cx="241.8" cy="725.5" r="18.2"/><circle cx="242" cy="771.3" r="18.2"/><circle cx="241.8" cy="817.5" r="18.2"/><circle cx="347" cy="580.5" r="18.2"/><circle cx="441.3" cy="492.8" r="18.2"/><circle cx="505.8" cy="470.8" r="18.2"/><circle cx="724.5" cy="440.5" r="18.2"/><circle cx="606.8" cy="557" r="18.2"/><circle cx="662" cy="525" r="18.2"/><circle cx="713.8" cy="527.5" r="18.2"/><circle cx="764.3" cy="525" r="18.2"/><circle cx="672" cy="726.8" r="18.2"/><circle cx="760.8" cy="830.5" r="18.2"/><circle cx="882.5" cy="757.5" r="18.2"/><circle cx="1053.4" cy="749.3" r="18.2"/><circle cx="998.5" cy="638" r="18.2"/><circle cx="1075.8" cy="485" r="18.2"/><circle cx="1167.5" cy="461.8" r="18.2"/><circle cx="1169.5" cy="516" r="18.2"/><circle cx="1180" cy="569" r="18.2"/><circle cx="1033" cy="357.5" r="18.2"/><circle cx="900.5" cy="415.5" r="18.2"/><circle cx="1019.5" cy="296.3" r="18.2"/><circle cx="1005.5" cy="240.5" r="18.2"/><circle cx="1100" cy="131.3" r="18.2"/><circle cx="708.8" cy="73.1" r="18.2"/><circle cx="787.8" cy="60.3" r="18.2"/></g>
<g fill="#1c1c9c" stroke="#fff" stroke-width=".15" font-family="'Liberation Sans',sans-serif" font-size="26.6" text-anchor="middle"><text transform="translate(188 194.8) scale(.75 1)">2</text>
<text transform="translate(83.8 222.1) scale(.75 1)">8</text>
<text transform="translate(20.5 243.6) scale(.75 1)">6</text>
<text transform="translate(48 469.6) scale(.75 1)">1<tspan dx="-2">2</tspan></text>
<text transform="translate(55 516.6) scale(.75 1)">1<tspan dx="-2">0</tspan></text>
<text transform="translate(159.3 543.4) scale(.75 1)">1<tspan dx="-2">8</tspan></text>
<text transform="translate(171.8 605.1) scale(.75 1)">22</text>
<text transform="translate(58.8 650.4) scale(.75 1)">5</text>
<text transform="translate(308.8 680.1) scale(.75 1)">1<tspan dx="-2">1</tspan></text>
<text transform="translate(241.8 735.1) scale(.75 1)">7</text>
<text transform="translate(242 780.9) scale(.75 1)">1<tspan dx="-2">4</tspan></text>
<text transform="translate(241.8 827.1) scale(.75 1)">1<tspan dx="-2">4</tspan></text>
<text transform="translate(347 590.1) scale(.75 1)">23</text>
<text transform="translate(441.3 502.4) scale(.75 1)">1</text>
<text transform="translate(505.8 480.4) scale(.75 1)">4</text>
<text transform="translate(724.5 450.1) scale(.75 1)">1<tspan dx="-2">3</tspan></text>
<text transform="translate(606.8 566.6) scale(.75 1)">21</text>
<text transform="translate(662 534.6) scale(.75 1)">20</text>
<text transform="translate(713.8 537.1) scale(.75 1)">1<tspan dx="-2">6</tspan></text>
<text transform="translate(764.3 534.6) scale(.75 1)">21</text>
<text transform="translate(672 736.4) scale(.75 1)">1<tspan dx="-2">5</tspan></text>
<text transform="translate(760.8 840.1) scale(.75 1)">1<tspan dx="-2">7</tspan></text>
<text transform="translate(882.5 767.1) scale(.75 1)">3</text>
<text transform="translate(1053.4 758.9) scale(.75 1)">1<tspan dx="-2">7</tspan></text>
<text transform="translate(998.5 647.6) scale(.75 1)">1<tspan dx="-2">5</tspan></text>
<text transform="translate(1075.8 494.6) scale(.75 1)">1<tspan dx="-2">1</tspan></text>
<text transform="translate(1167.5 471.4) scale(.75 1)">7</text>
<text transform="translate(1169.5 525.6) scale(.75 1)">1<tspan dx="-2">4</tspan></text>
<text transform="translate(1180 578.6) scale(.75 1)">1<tspan dx="-2">4</tspan></text>
<text transform="translate(1033 367.1) scale(.75 1)">22</text>
<text transform="translate(900.5 425.1) scale(.75 1)">23</text>
<text transform="translate(1019.5 305.9) scale(.75 1)">1<tspan dx="-2">9</tspan></text>
<text transform="translate(1005.5 250.1) scale(.75 1)">1<tspan dx="-2">0</tspan></text>
<text transform="translate(1100 140.9) scale(.75 1)">1<tspan dx="-2">6</tspan></text>
<text transform="translate(708.8 82.7) scale(.75 1)">9</text>
<text transform="translate(787.8 69.9) scale(.75 1)">6</text></g>
</g>
</svg>
</body></html>
